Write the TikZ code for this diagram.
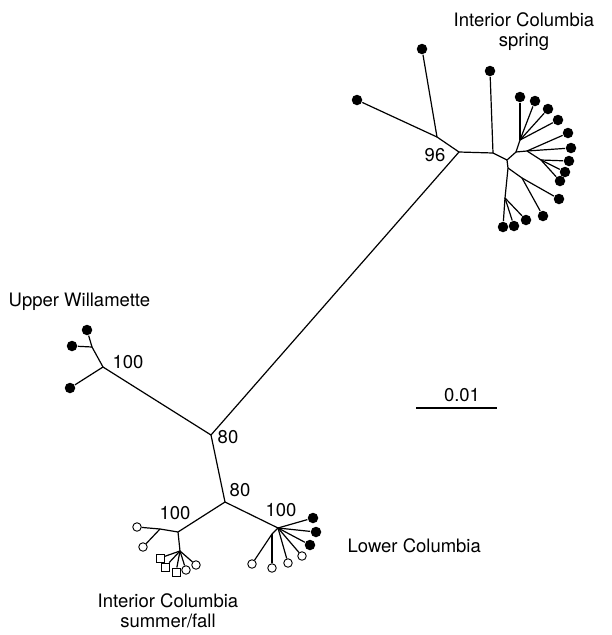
\documentclass[tikz,border=0pt]{standalone}
\usepackage{fontspec}
\setmainfont{TeX Gyre Heros}
\usetikzlibrary{positioning}

\begin{document}
\begin{tikzpicture}[x=1pt, y=-1pt, line width=1.2pt,
  leaf/.style={circle, fill=black, inner sep=0pt, minimum size=10.5pt},
  oleaf/.style={circle, draw, fill=white, line width=0.9pt, inner sep=0pt, minimum size=8.5pt},
  sleaf/.style={rectangle, draw, fill=white, line width=0.9pt, inner sep=0pt, minimum size=8pt},
  lab/.style={font=\fontsize{18.5}{20}\selectfont, align=center, inner sep=0pt},
  ]
  \useasboundingbox (0,0) rectangle (611,635);

  % backbone
  \coordinate (n96) at (459,152);
  \coordinate (w100) at (103,367);
  \coordinate (n80a) at (211,435);
  \coordinate (n80b) at (225,502);
  \coordinate (a100) at (178,532);
  \coordinate (b100) at (278,528);

  % Interior Columbia spring
  \coordinate (s1) at (437,137);
  \coordinate (s2) at (493,153);
  \coordinate (s3) at (507,160);
  \coordinate (s4) at (516,152);
  \coordinate (s5) at (520,140);
  \coordinate (s6) at (527,151);
  \coordinate (s6b) at (541,160);
  \coordinate (s7) at (508,168);
  \coordinate (s8) at (522,178);
  \coordinate (s9) at (505,198);
  \node[leaf] (sa) at (422,49) {};
  \node[leaf] (sb) at (357,100) {};
  \node[leaf] (sc) at (490,71) {};
  \node[leaf] (sd) at (520,97) {};
  \node[leaf] (se) at (535,101) {};
  \node[leaf] (sf) at (548,109) {};
  \node[leaf] (sg) at (558,120) {};
  \node[leaf] (sh) at (568,133) {};
  \node[leaf] (si) at (571,148) {};
  \node[leaf] (sj) at (569,161) {};
  \node[leaf] (sk) at (565,172) {};
  \node[leaf] (sl) at (560,181) {};
  \node[leaf] (sm) at (559,199) {};
  \node[leaf] (sn) at (543,216) {};
  \node[leaf] (so) at (526,220) {};
  \node[leaf] (sp) at (514,226) {};
  \node[leaf] (sq) at (503,227) {};

  % Upper Willamette
  \coordinate (wj) at (92,347);
  \node[leaf] (wa) at (87,330) {};
  \node[leaf] (wb) at (72,346) {};
  \node[leaf] (wc) at (70,388) {};

  % Interior Columbia summer/fall
  \coordinate (aj1) at (160,529);
  \coordinate (aj2) at (180,551);
  \node[oleaf] (aa) at (137,527) {};
  \node[oleaf] (ab) at (143,547) {};
  \node[sleaf] (ac) at (160,558) {};
  \node[sleaf] (ad) at (165,567) {};
  \node[sleaf] (ae) at (176,572) {};
  \node[oleaf] (af) at (186,570) {};
  \node[oleaf] (ag) at (196,565) {};

  % Lower Columbia
  \coordinate (bj) at (272,534);
  \node[leaf] (ba) at (313,518) {};
  \node[leaf] (bb) at (316,532) {};
  \node[leaf] (bc) at (310,545) {};
  \node[oleaf] (bd) at (302,556) {};
  \node[oleaf] (be) at (288,563) {};
  \node[oleaf] (bf) at (272,568) {};
  \node[oleaf] (bg) at (252,564) {};

  % scale bar
  \coordinate (sc0) at (416,408);
  \coordinate (sc1) at (497,408);

  \path (w100) edge (n80a) (n80a) edge (n96) (n80a) edge (n80b);
  \path (n80b) edge (a100) (n80b) edge (b100);

  \path (n96) edge (s1) (s1) edge (sa) (s1) edge (sb);
  \path (n96) edge (s2) (s2) edge (sc) (s2) edge (s3);
  \path (s3) edge (s4) (s4) edge (s5) (s4) edge (s6) (s3) edge (s7);
  \path (s5) edge (sd) (s5) edge (se) (s5) edge (sf) (s5) edge (sg);
  \path (s6) edge (sh) (s6) edge (si) (s6) edge (s6b);
  \path (s6b) edge (sj) (s6b) edge (sk) (s6b) edge (sl);
  \path (s7) edge (s8) (s8) edge (sm) (s8) edge (sn) (s7) edge (s9);
  \path (s9) edge (so) (s9) edge (sp) (s9) edge (sq);

  \path (w100) edge (wj) (wj) edge (wa) (wj) edge (wb) (w100) edge (wc);

  \path (a100) edge (aj1) (aj1) edge (aa) (aj1) edge (ab) (a100) edge (aj2);
  \path (aj2) edge (ac) (aj2) edge (ad) (aj2) edge (ae) (aj2) edge (af) (aj2) edge (ag);

  \path (b100) edge (ba) (b100) edge (bb) (b100) edge (bc) (b100) edge (bd);
  \path (b100) edge (be) (b100) edge (bj) (bj) edge (bf) (bj) edge (bg);

  \path (sc0) edge (sc1);

  % support values
  \node[lab] (l96) at (435,155) {96};
  \node[lab] (lw) at (128,362) {100};
  \node[lab] (l80a) at (228,437) {80};
  \node[lab] (l80b) at (240,490) {80};
  \node[lab] (la) at (175,513) {100};
  \node[lab] (lb) at (281,510) {100};
  \node[lab] (lsc) at (462,395) {0.01};

  % group names
  \node[lab] (gspring) at (524,32) {Interior Columbia\\spring};
  \node[lab, anchor=base west] (gwill) at (8,306) {Upper Willamette};
  \node[lab, anchor=base west] (glower) at (347,552) {Lower Columbia};
  \node[lab] (gsummer) at (168,611) {Interior Columbia\\summer/fall};
\end{tikzpicture}
\end{document}
